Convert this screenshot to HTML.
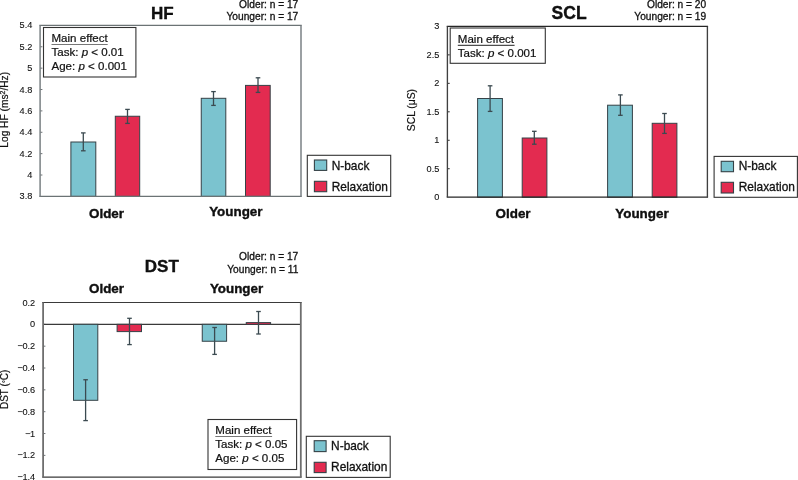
<!DOCTYPE html>
<html><head><meta charset="utf-8"><style>
html,body{margin:0;padding:0;background:#fff;width:798px;height:480px;overflow:hidden}
svg{display:block;font-family:"Liberation Sans", sans-serif;will-change:transform}
</style></head><body>
<svg width="798" height="480" viewBox="0 0 798 480">
<text x="32.3" y="28.4" font-size="9.2" text-anchor="end" stroke="#111" stroke-width="0.1" fill="#111" >5.4</text>
<line x1="40.1" y1="46.775" x2="42.4" y2="46.775" stroke="#6d7275" stroke-width="1"/>
<text x="32.3" y="49.775" font-size="9.2" text-anchor="end" stroke="#111" stroke-width="0.1" fill="#111" >5.2</text>
<line x1="40.1" y1="68.15" x2="42.4" y2="68.15" stroke="#6d7275" stroke-width="1"/>
<text x="32.3" y="71.15" font-size="9.2" text-anchor="end" stroke="#111" stroke-width="0.1" fill="#111" >5</text>
<line x1="40.1" y1="89.525" x2="42.4" y2="89.525" stroke="#6d7275" stroke-width="1"/>
<text x="32.3" y="92.525" font-size="9.2" text-anchor="end" stroke="#111" stroke-width="0.1" fill="#111" >4.8</text>
<line x1="40.1" y1="110.9" x2="42.4" y2="110.9" stroke="#6d7275" stroke-width="1"/>
<text x="32.3" y="113.9" font-size="9.2" text-anchor="end" stroke="#111" stroke-width="0.1" fill="#111" >4.6</text>
<line x1="40.1" y1="132.275" x2="42.4" y2="132.275" stroke="#6d7275" stroke-width="1"/>
<text x="32.3" y="135.275" font-size="9.2" text-anchor="end" stroke="#111" stroke-width="0.1" fill="#111" >4.4</text>
<line x1="40.1" y1="153.65" x2="42.4" y2="153.65" stroke="#6d7275" stroke-width="1"/>
<text x="32.3" y="156.65" font-size="9.2" text-anchor="end" stroke="#111" stroke-width="0.1" fill="#111" >4.2</text>
<line x1="40.1" y1="175.025" x2="42.4" y2="175.025" stroke="#6d7275" stroke-width="1"/>
<text x="32.3" y="178.025" font-size="9.2" text-anchor="end" stroke="#111" stroke-width="0.1" fill="#111" >4</text>
<text x="32.3" y="199.4" font-size="9.2" text-anchor="end" stroke="#111" stroke-width="0.1" fill="#111" >3.8</text>
<rect x="70.9" y="142.0" width="24.89999999999999" height="54.400000000000006" fill="#7bc3cf" stroke="#364247" stroke-width="1.0"/>
<line x1="83.3" y1="132.9" x2="83.3" y2="150.8" stroke="#3b4a50" stroke-width="1.3"/>
<line x1="81.0" y1="132.9" x2="85.6" y2="132.9" stroke="#3b4a50" stroke-width="1.3"/>
<line x1="81.0" y1="150.8" x2="85.6" y2="150.8" stroke="#3b4a50" stroke-width="1.3"/>
<rect x="115.3" y="116.25" width="24.39999999999999" height="80.15" fill="#e32b50" stroke="#364247" stroke-width="1.0"/>
<line x1="127.5" y1="109.4" x2="127.5" y2="123.4" stroke="#3b4a50" stroke-width="1.3"/>
<line x1="125.2" y1="109.4" x2="129.8" y2="109.4" stroke="#3b4a50" stroke-width="1.3"/>
<line x1="125.2" y1="123.4" x2="129.8" y2="123.4" stroke="#3b4a50" stroke-width="1.3"/>
<rect x="201.25" y="98.3" width="24.55000000000001" height="98.10000000000001" fill="#7bc3cf" stroke="#364247" stroke-width="1.0"/>
<line x1="213.5" y1="91.6" x2="213.5" y2="105.4" stroke="#3b4a50" stroke-width="1.3"/>
<line x1="211.2" y1="91.6" x2="215.8" y2="91.6" stroke="#3b4a50" stroke-width="1.3"/>
<line x1="211.2" y1="105.4" x2="215.8" y2="105.4" stroke="#3b4a50" stroke-width="1.3"/>
<rect x="245.5" y="85.4" width="24.69999999999999" height="111.0" fill="#e32b50" stroke="#364247" stroke-width="1.0"/>
<line x1="258" y1="77.8" x2="258" y2="92.4" stroke="#3b4a50" stroke-width="1.3"/>
<line x1="255.7" y1="77.8" x2="260.3" y2="77.8" stroke="#3b4a50" stroke-width="1.3"/>
<line x1="255.7" y1="92.4" x2="260.3" y2="92.4" stroke="#3b4a50" stroke-width="1.3"/>
<line x1="39.35" y1="25.4" x2="301.75" y2="25.4" stroke="#6b7375" stroke-width="1.3"/>
<line x1="39.35" y1="196.4" x2="301.75" y2="196.4" stroke="#6b7375" stroke-width="1.3"/>
<line x1="40.1" y1="25.4" x2="40.1" y2="196.4" stroke="#7a8184" stroke-width="1.5"/>
<line x1="301" y1="25.4" x2="301" y2="196.4" stroke="#7a8184" stroke-width="1.5"/>
<text x="89" y="217.7" font-size="13.4" text-anchor="start" font-weight="bold" stroke="#000" stroke-width="0.35" fill="#111" >Older</text>
<text x="209.2" y="216.4" font-size="13.4" text-anchor="start" font-weight="bold" stroke="#000" stroke-width="0.35" fill="#111" >Younger</text>
<text x="150.9" y="19.3" font-size="17" text-anchor="start" font-weight="bold" stroke="#000" stroke-width="0.35" fill="#111" >HF</text>
<text x="298.3" y="8.2" font-size="10.2" text-anchor="end" stroke="#111" stroke-width="0.3" fill="#111" >Older: n = 17</text>
<text x="298.3" y="20" font-size="10.2" text-anchor="end" stroke="#111" stroke-width="0.3" fill="#111" >Younger: n = 17</text>
<rect x="43.5" y="27.5" width="92.4" height="49.5" fill="#fff" stroke="#333" stroke-width="1.1"/>
<text x="51.5" y="42.2" font-size="10.6" fill="#111" stroke="#111" stroke-width="0.2" transform="translate(51.5,0) scale(1.09,1) translate(-51.5,0)">Main effect</text>
<text x="51.5" y="56.3" font-size="10.6" fill="#111" stroke="#111" stroke-width="0.2" transform="translate(51.5,0) scale(1.09,1) translate(-51.5,0)">Task: <tspan font-style="italic">p</tspan> &lt; 0.01</text>
<text x="51.5" y="70.1" font-size="10.6" fill="#111" stroke="#111" stroke-width="0.2" transform="translate(51.5,0) scale(1.09,1) translate(-51.5,0)">Age: <tspan font-style="italic">p</tspan> &lt; 0.001</text>
<line x1="51.5" y1="44.5" x2="107.7" y2="44.5" stroke="#777" stroke-width="1.0"/>
<rect x="307.3" y="155.3" width="83.39999999999998" height="41.099999999999994" fill="#fff" stroke="#333" stroke-width="1.1"/>
<rect x="314.4" y="160" width="12.300000000000011" height="10.400000000000006" fill="#7bc3cf" stroke="#364247" stroke-width="1.1"/>
<rect x="314.4" y="181.3" width="12.300000000000011" height="10.399999999999977" fill="#e32b50" stroke="#364247" stroke-width="1.1"/>
<text x="331.7" y="169.7" font-size="11.9" text-anchor="start" stroke="#111" stroke-width="0.3" fill="#111" >N-back</text>
<text x="331.7" y="190.7" font-size="11.9" text-anchor="start" stroke="#111" stroke-width="0.3" fill="#111" >Relaxation</text>
<text transform="translate(8,109.8) rotate(-90)" font-size="10.2" text-anchor="middle" fill="#111" stroke="#111" stroke-width="0.2">Log HF (ms<tspan font-size="7" dy="-3.5">2</tspan><tspan dy="3.5">/Hz)</tspan></text>
<text x="439.3" y="29.4" font-size="9.2" text-anchor="end" stroke="#111" stroke-width="0.1" fill="#111" >3</text>
<line x1="447.4" y1="54.86666666666666" x2="449.7" y2="54.86666666666666" stroke="#2b2b2b" stroke-width="1"/>
<text x="439.3" y="57.86666666666666" font-size="9.2" text-anchor="end" stroke="#111" stroke-width="0.1" fill="#111" >2.5</text>
<line x1="447.4" y1="83.33333333333333" x2="449.7" y2="83.33333333333333" stroke="#2b2b2b" stroke-width="1"/>
<text x="439.3" y="86.33333333333333" font-size="9.2" text-anchor="end" stroke="#111" stroke-width="0.1" fill="#111" >2</text>
<line x1="447.4" y1="111.79999999999998" x2="449.7" y2="111.79999999999998" stroke="#2b2b2b" stroke-width="1"/>
<text x="439.3" y="114.79999999999998" font-size="9.2" text-anchor="end" stroke="#111" stroke-width="0.1" fill="#111" >1.5</text>
<line x1="447.4" y1="140.26666666666665" x2="449.7" y2="140.26666666666665" stroke="#2b2b2b" stroke-width="1"/>
<text x="439.3" y="143.26666666666665" font-size="9.2" text-anchor="end" stroke="#111" stroke-width="0.1" fill="#111" >1</text>
<line x1="447.4" y1="168.73333333333332" x2="449.7" y2="168.73333333333332" stroke="#2b2b2b" stroke-width="1"/>
<text x="439.3" y="171.73333333333332" font-size="9.2" text-anchor="end" stroke="#111" stroke-width="0.1" fill="#111" >0.5</text>
<text x="439.3" y="200.2" font-size="9.2" text-anchor="end" stroke="#111" stroke-width="0.1" fill="#111" >0</text>
<rect x="477.6" y="98.5" width="24.799999999999955" height="98.69999999999999" fill="#7bc3cf" stroke="#364247" stroke-width="1.0"/>
<line x1="490.1" y1="85.8" x2="490.1" y2="111.4" stroke="#3b4a50" stroke-width="1.3"/>
<line x1="487.8" y1="85.8" x2="492.40000000000003" y2="85.8" stroke="#3b4a50" stroke-width="1.3"/>
<line x1="487.8" y1="111.4" x2="492.40000000000003" y2="111.4" stroke="#3b4a50" stroke-width="1.3"/>
<rect x="522.2" y="138" width="24.699999999999932" height="59.19999999999999" fill="#e32b50" stroke="#364247" stroke-width="1.0"/>
<line x1="534.3" y1="131.3" x2="534.3" y2="144.2" stroke="#3b4a50" stroke-width="1.3"/>
<line x1="532.0" y1="131.3" x2="536.5999999999999" y2="131.3" stroke="#3b4a50" stroke-width="1.3"/>
<line x1="532.0" y1="144.2" x2="536.5999999999999" y2="144.2" stroke="#3b4a50" stroke-width="1.3"/>
<rect x="607.6" y="105.2" width="24.799999999999955" height="91.99999999999999" fill="#7bc3cf" stroke="#364247" stroke-width="1.0"/>
<line x1="620.4" y1="94.9" x2="620.4" y2="115.3" stroke="#3b4a50" stroke-width="1.3"/>
<line x1="618.1" y1="94.9" x2="622.6999999999999" y2="94.9" stroke="#3b4a50" stroke-width="1.3"/>
<line x1="618.1" y1="115.3" x2="622.6999999999999" y2="115.3" stroke="#3b4a50" stroke-width="1.3"/>
<rect x="652.2" y="123.3" width="24.699999999999932" height="73.89999999999999" fill="#e32b50" stroke="#364247" stroke-width="1.0"/>
<line x1="664.5" y1="113.5" x2="664.5" y2="133.4" stroke="#3b4a50" stroke-width="1.3"/>
<line x1="662.2" y1="113.5" x2="666.8" y2="113.5" stroke="#3b4a50" stroke-width="1.3"/>
<line x1="662.2" y1="133.4" x2="666.8" y2="133.4" stroke="#3b4a50" stroke-width="1.3"/>
<line x1="446.72499999999997" y1="26.4" x2="708.0749999999999" y2="26.4" stroke="#262626" stroke-width="1.2"/>
<line x1="446.72499999999997" y1="197.2" x2="708.0749999999999" y2="197.2" stroke="#262626" stroke-width="1.2"/>
<line x1="447.4" y1="26.4" x2="447.4" y2="197.2" stroke="#404040" stroke-width="1.35"/>
<line x1="707.4" y1="26.4" x2="707.4" y2="197.2" stroke="#404040" stroke-width="1.35"/>
<text x="495.6" y="217.9" font-size="13.4" text-anchor="start" font-weight="bold" stroke="#000" stroke-width="0.35" fill="#111" >Older</text>
<text x="615.3" y="217.5" font-size="13.4" text-anchor="start" font-weight="bold" stroke="#000" stroke-width="0.35" fill="#111" >Younger</text>
<text x="551.6" y="19.4" font-size="17.5" text-anchor="start" font-weight="bold" stroke="#000" stroke-width="0.35" fill="#111" >SCL</text>
<text x="706.2" y="8.2" font-size="10.2" text-anchor="end" stroke="#111" stroke-width="0.3" fill="#111" >Older: n = 20</text>
<text x="706.2" y="19.8" font-size="10.2" text-anchor="end" stroke="#111" stroke-width="0.3" fill="#111" >Younger: n = 19</text>
<rect x="450.2" y="28" width="95.09999999999997" height="35.3" fill="#fff" stroke="#333" stroke-width="1.1"/>
<text x="457.8" y="42.9" font-size="10.6" fill="#111" stroke="#111" stroke-width="0.2" transform="translate(457.8,0) scale(1.09,1) translate(-457.8,0)">Main effect</text>
<text x="457.8" y="56.7" font-size="10.6" fill="#111" stroke="#111" stroke-width="0.2" transform="translate(457.8,0) scale(1.09,1) translate(-457.8,0)">Task: <tspan font-style="italic">p</tspan> &lt; 0.001</text>
<line x1="457.8" y1="45.3" x2="514.6" y2="45.3" stroke="#222" stroke-width="1.0"/>
<rect x="714.1" y="156.4" width="83.29999999999995" height="40.900000000000006" fill="#fff" stroke="#333" stroke-width="1.1"/>
<rect x="721.2" y="161.3" width="12.299999999999955" height="10.399999999999977" fill="#7bc3cf" stroke="#364247" stroke-width="1.1"/>
<rect x="721.2" y="182.3" width="12.299999999999955" height="10.699999999999989" fill="#e32b50" stroke="#364247" stroke-width="1.1"/>
<text x="738.7" y="170.3" font-size="11.9" text-anchor="start" stroke="#111" stroke-width="0.3" fill="#111" >N-back</text>
<text x="738.7" y="191.1" font-size="11.9" text-anchor="start" stroke="#111" stroke-width="0.3" fill="#111" >Relaxation</text>
<text transform="translate(415,110.1) rotate(-90)" font-size="10.3" text-anchor="middle" fill="#111" stroke="#111" stroke-width="0.2">SCL (μS)</text>
<text x="35.2" y="305.5" font-size="9.2" text-anchor="end" stroke="#111" stroke-width="0.1" fill="#111" >0.2</text>
<line x1="43.1" y1="324.3375" x2="45.4" y2="324.3375" stroke="#6d7275" stroke-width="1"/>
<text x="35.2" y="327.3375" font-size="9.2" text-anchor="end" stroke="#111" stroke-width="0.1" fill="#111" >0</text>
<line x1="43.1" y1="346.175" x2="45.4" y2="346.175" stroke="#6d7275" stroke-width="1"/>
<text x="35.2" y="349.175" font-size="9.2" text-anchor="end" stroke="#111" stroke-width="0.1" fill="#111" >−<tspan dx="-0.5">0.2</tspan></text>
<line x1="43.1" y1="368.0125" x2="45.4" y2="368.0125" stroke="#6d7275" stroke-width="1"/>
<text x="35.2" y="371.0125" font-size="9.2" text-anchor="end" stroke="#111" stroke-width="0.1" fill="#111" >−<tspan dx="-0.5">0.4</tspan></text>
<line x1="43.1" y1="389.85" x2="45.4" y2="389.85" stroke="#6d7275" stroke-width="1"/>
<text x="35.2" y="392.85" font-size="9.2" text-anchor="end" stroke="#111" stroke-width="0.1" fill="#111" >−<tspan dx="-0.5">0.6</tspan></text>
<line x1="43.1" y1="411.6875" x2="45.4" y2="411.6875" stroke="#6d7275" stroke-width="1"/>
<text x="35.2" y="414.6875" font-size="9.2" text-anchor="end" stroke="#111" stroke-width="0.1" fill="#111" >−<tspan dx="-0.5">0.8</tspan></text>
<line x1="43.1" y1="433.525" x2="45.4" y2="433.525" stroke="#6d7275" stroke-width="1"/>
<text x="35.2" y="436.525" font-size="9.2" text-anchor="end" stroke="#111" stroke-width="0.1" fill="#111" >−<tspan dx="-0.5">1</tspan></text>
<line x1="43.1" y1="455.36249999999995" x2="45.4" y2="455.36249999999995" stroke="#6d7275" stroke-width="1"/>
<text x="35.2" y="458.36249999999995" font-size="9.2" text-anchor="end" stroke="#111" stroke-width="0.1" fill="#111" >−<tspan dx="-0.5">1.2</tspan></text>
<text x="35.2" y="480.2" font-size="9.2" text-anchor="end" stroke="#111" stroke-width="0.1" fill="#111" >−<tspan dx="-0.5">1.4</tspan></text>
<line x1="43.1" y1="324.3375" x2="300.8" y2="324.3375" stroke="#3a3a3a" stroke-width="1.2"/>
<rect x="73.5" y="324.3375" width="24.299999999999997" height="75.96250000000003" fill="#7bc3cf" stroke="#364247" stroke-width="1.0"/>
<line x1="85.6" y1="379.75" x2="85.6" y2="420.6" stroke="#3b4a50" stroke-width="1.3"/>
<line x1="83.3" y1="379.75" x2="87.89999999999999" y2="379.75" stroke="#3b4a50" stroke-width="1.3"/>
<line x1="83.3" y1="420.6" x2="87.89999999999999" y2="420.6" stroke="#3b4a50" stroke-width="1.3"/>
<rect x="117.1" y="324.3375" width="24.400000000000006" height="7.2625000000000455" fill="#e32b50" stroke="#364247" stroke-width="1.0"/>
<line x1="129.5" y1="318.3" x2="129.5" y2="344.6" stroke="#3b4a50" stroke-width="1.3"/>
<line x1="127.2" y1="318.3" x2="131.8" y2="318.3" stroke="#3b4a50" stroke-width="1.3"/>
<line x1="127.2" y1="344.6" x2="131.8" y2="344.6" stroke="#3b4a50" stroke-width="1.3"/>
<rect x="202.25" y="324.3375" width="24.349999999999994" height="16.912500000000023" fill="#7bc3cf" stroke="#364247" stroke-width="1.0"/>
<line x1="214.6" y1="327.5" x2="214.6" y2="354.4" stroke="#3b4a50" stroke-width="1.3"/>
<line x1="212.29999999999998" y1="327.5" x2="216.9" y2="327.5" stroke="#3b4a50" stroke-width="1.3"/>
<line x1="212.29999999999998" y1="354.4" x2="216.9" y2="354.4" stroke="#3b4a50" stroke-width="1.3"/>
<rect x="246.25" y="322.6" width="24.350000000000023" height="1.7374999999999545" fill="#e32b50" stroke="#364247" stroke-width="1.0"/>
<line x1="258.5" y1="311.5" x2="258.5" y2="334" stroke="#3b4a50" stroke-width="1.3"/>
<line x1="256.2" y1="311.5" x2="260.8" y2="311.5" stroke="#3b4a50" stroke-width="1.3"/>
<line x1="256.2" y1="334" x2="260.8" y2="334" stroke="#3b4a50" stroke-width="1.3"/>
<line x1="42.2" y1="302.5" x2="301.7" y2="302.5" stroke="#3a3a3a" stroke-width="1.2"/>
<line x1="42.2" y1="477.2" x2="301.7" y2="477.2" stroke="#3a3a3a" stroke-width="1.2"/>
<line x1="43.1" y1="302.5" x2="43.1" y2="477.2" stroke="#6e6e6e" stroke-width="1.8"/>
<line x1="300.8" y1="302.5" x2="300.8" y2="477.2" stroke="#6e6e6e" stroke-width="1.8"/>
<text x="89" y="292.9" font-size="13.4" text-anchor="start" font-weight="bold" stroke="#000" stroke-width="0.35" fill="#111" >Older</text>
<text x="209.9" y="292.6" font-size="13.4" text-anchor="start" font-weight="bold" stroke="#000" stroke-width="0.35" fill="#111" >Younger</text>
<text x="144.8" y="272.3" font-size="17" text-anchor="start" font-weight="bold" stroke="#000" stroke-width="0.35" fill="#111" >DST</text>
<text x="298.3" y="260.2" font-size="10.2" text-anchor="end" stroke="#111" stroke-width="0.3" fill="#111" >Older: n = 17</text>
<text x="298.3" y="272.6" font-size="10.2" text-anchor="end" stroke="#111" stroke-width="0.3" fill="#111" >Younger: n = 11</text>
<rect x="208" y="419.5" width="88.60000000000002" height="50.0" fill="#fff" stroke="#333" stroke-width="1.1"/>
<text x="215.3" y="434.1" font-size="10.6" fill="#111" stroke="#111" stroke-width="0.2" transform="translate(215.3,0) scale(1.09,1) translate(-215.3,0)">Main effect</text>
<text x="215.3" y="448.2" font-size="10.6" fill="#111" stroke="#111" stroke-width="0.2" transform="translate(215.3,0) scale(1.09,1) translate(-215.3,0)">Task: <tspan font-style="italic">p</tspan> &lt; 0.05</text>
<text x="215.3" y="461.8" font-size="10.6" fill="#111" stroke="#111" stroke-width="0.2" transform="translate(215.3,0) scale(1.09,1) translate(-215.3,0)">Age: <tspan font-style="italic">p</tspan> &lt; 0.05</text>
<line x1="215.3" y1="436.5" x2="272.1" y2="436.5" stroke="#777" stroke-width="1.0"/>
<rect x="306.3" y="436.3" width="83.89999999999998" height="41.099999999999966" fill="#fff" stroke="#333" stroke-width="1.1"/>
<rect x="314.2" y="440.7" width="11.900000000000034" height="10.900000000000034" fill="#7bc3cf" stroke="#364247" stroke-width="1.1"/>
<rect x="314.2" y="462.3" width="11.900000000000034" height="10.300000000000011" fill="#e32b50" stroke="#364247" stroke-width="1.1"/>
<text x="331.1" y="450" font-size="11.9" text-anchor="start" stroke="#111" stroke-width="0.3" fill="#111" >N-back</text>
<text x="331.1" y="471.4" font-size="11.9" text-anchor="start" stroke="#111" stroke-width="0.3" fill="#111" >Relaxation</text>
<text transform="translate(7.6,389.4) rotate(-90)" font-size="10" text-anchor="middle" fill="#111" stroke="#111" stroke-width="0.2">DST (<tspan font-size="7">°</tspan><tspan dx="0">C)</tspan></text>
</svg>
</body></html>
